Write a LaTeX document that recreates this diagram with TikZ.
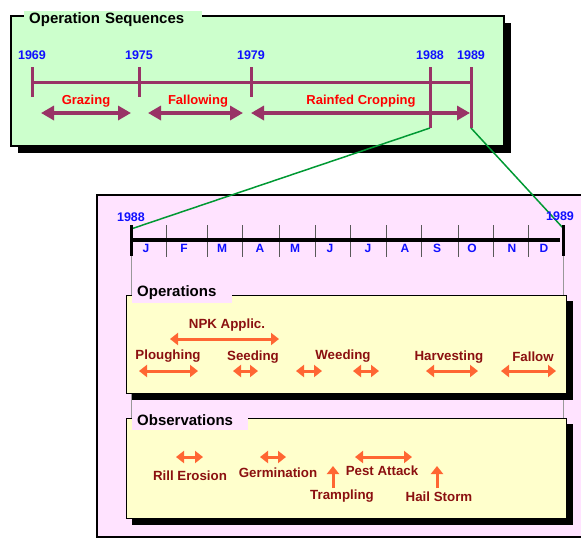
\documentclass[tikz,border=0pt]{standalone}
\usepackage{fontspec}
\setmainfont{Liberation Sans}
\usetikzlibrary{arrows.meta}
\definecolor{seqgreen}{HTML}{CCFFCC}
\definecolor{yrpink}{HTML}{FFE3FF}
\definecolor{opyellow}{HTML}{FFFFCC}
\definecolor{plum}{HTML}{993366}
\definecolor{yearblue}{HTML}{1010FF}
\definecolor{darkred}{HTML}{8B1010}
\definecolor{tangerine}{HTML}{FF6633}
\definecolor{zoomgreen}{HTML}{009933}

\tikzset{
  title/.style={anchor=west,align=left,inner xsep=5pt,inner ysep=0pt,minimum height=19pt,font=\bfseries\fontsize{15}{17}\selectfont},
  year/.style={text=yearblue,font=\bfseries\fontsize{12.5}{14}\selectfont},
  month/.style={text=yearblue,font=\bfseries\fontsize{12}{14}\selectfont},
  phase/.style={text=red,font=\bfseries\fontsize{13}{15}\selectfont},
  event/.style={text=darkred,font=\bfseries\fontsize{13.3}{15}\selectfont},
  tick/.style={draw=plum,line width=3pt},
  span/.style={draw=plum,line width=4pt,{Triangle[length=13pt,width=14pt]}-{Triangle[length=13pt,width=14pt]}},
  twoway/.style={draw=tangerine,line width=3pt,{Triangle[length=8pt,width=12pt]}-{Triangle[length=8pt,width=12pt]}},
  oneway/.style={draw=tangerine,line width=3pt,-{Triangle[length=8pt,width=12pt]}},
  shadow/.style={fill=black},
  zoomline/.style={draw=zoomgreen,line width=1.5pt},
}

\begin{document}
\begin{tikzpicture}[x=1pt,y=-1pt]
  \useasboundingbox (0,0) rectangle (581,539);%
  \clip (0,0) rectangle (581,539);%
  % top panel
  \fill[shadow] (18,23) rectangle (511,153);%
  \draw[fill=seqgreen,line width=1.5pt] (11,16) rectangle (504,146);%
  \node[title,fill=seqgreen,text width=168pt] (seqtitle) at (24,20) {Operation Sequences};%
  \foreach \yr/\xx/\len in {1969/32/97,1975/139/97,1979/251/97,1988/430/128,1989/471/128} {%
    \node[year] (y\yr) at (\xx,55) {\yr};%
    \coordinate (a\yr) at (\xx,67);%
    \coordinate (b\yr) at (\xx,\len);%
    \draw[tick] (a\yr) -- (b\yr);%
  }%
  \coordinate (line0) at (32,82);%
  \coordinate (line1) at (471,82);%
  \draw[tick] (line0) -- (line1);%
  \coordinate (gz0) at (41,113);  \coordinate (gz1) at (131,113);%
  \coordinate (fw0) at (148,113); \coordinate (fw1) at (243,113);%
  \coordinate (rc0) at (251,113); \coordinate (rc1) at (470,113);%
  \draw[span] (gz0) -- (gz1);%
  \draw[span] (fw0) -- (fw1);%
  \draw[span] (rc0) -- (rc1);%
  \node[phase] (grazing) at (86,101) {Grazing};%
  \node[phase] (fallowing) at (198,101) {Fallowing};%
  \node[phase] (rainfed) at (361,101) {Rainfed Cropping};%
  % bottom panel
  \draw[fill=yrpink,line width=1.5pt] (97,195) rectangle (600,537);%
  \coordinate (m0) at (131,225); \coordinate (m0b) at (131,256);%
  \coordinate (m1) at (563,225); \coordinate (m1b) at (563,256);%
  \coordinate (m0c) at (131,420); \coordinate (m1c) at (563,420);%
  \draw[zoomline] (b1988) -- (131,229);%
  \draw[zoomline] (b1989) -- (563,228);%
  \draw[gray!80,line width=1pt] (m0b) -- (m0c);%
  \draw[gray!80,line width=1pt] (m1b) -- (m1c);%
  \foreach \xx in {166,207,242,279,315,350,386,421,458,493,528}
    \draw[black!65,line width=1pt] (\xx,225) -- (\xx,257);%
  \coordinate (axis0) at (131,240); \coordinate (axis1) at (560,240);%
  \draw[line width=3.5pt] (axis0) -- (axis1);%
  \draw[line width=3pt] (m0) -- (m0b);%
  \draw[line width=3pt] (m1) -- (m1b);%
  \node[year] (low1988) at (131,217) {1988};%
  \node[year] (low1989) at (560,216) {1989};%
  \foreach \mo/\xx [count=\i] in {J/146,F/184,M/222,A/260,M/295,J/330,J/368,A/405,S/437,O/472,N/512,D/544}
    \node[month] (mo\i) at (\xx,248) {\mo};%
  % operations
  \fill[shadow] (132,301) rectangle (573,400);%
  \draw[fill=opyellow,line width=1pt] (126,295) rectangle (566,393);%
  \node[title,fill=yrpink,text width=90pt] (optitle) at (132,293) {Operations};%
  \node[event] (npk) at (227,325) {NPK Applic.};%
  \node[event] (plough) at (168,356) {Ploughing};%
  \node[event] (seed) at (253,357) {Seeding};%
  \node[event] (weed) at (343,356) {Weeding};%
  \node[event] (harvest) at (449,357) {Harvesting};%
  \node[event] (fallow) at (533,357) {Fallow};%
  \draw[twoway] (170,339) coordinate (npk0) -- (279,339) coordinate (npk1);%
  \draw[twoway] (139,371) coordinate (pl0) -- (198,371) coordinate (pl1);%
  \draw[twoway] (233,371) coordinate (sd0) -- (258,371) coordinate (sd1);%
  \draw[twoway] (296,371) coordinate (wa0) -- (322,371) coordinate (wa1);%
  \draw[twoway] (353,371) coordinate (wb0) -- (379,371) coordinate (wb1);%
  \draw[twoway] (426,371) coordinate (hv0) -- (478,371) coordinate (hv1);%
  \draw[twoway] (501,371) coordinate (fl0) -- (556,371) coordinate (fl1);%
  % observations
  \fill[shadow] (132,424) rectangle (573,525);%
  \draw[fill=opyellow,line width=1pt] (126,418) rectangle (566,518);%
  \node[title,fill=yrpink,text width=106pt] (obtitle) at (132,420) {Observations};%
  \node[event] (rill) at (190,476) {Rill Erosion};%
  \node[event] (germ) at (278,473) {Germination};%
  \node[event] (tramp) at (342,496) {Trampling};%
  \node[event] (pest) at (382,471) {Pest Attack};%
  \node[event] (hail) at (439,497) {Hail Storm};%
  \draw[twoway] (176,457) coordinate (re0) -- (203,457) coordinate (re1);%
  \draw[twoway] (260,457) coordinate (gm0) -- (286,457) coordinate (gm1);%
  \draw[twoway] (355,457) coordinate (pa0) -- (412,457) coordinate (pa1);%
  \draw[oneway] (333,488) coordinate (tr0) -- (333,466) coordinate (tr1);%
  \draw[oneway] (437,488) coordinate (hs0) -- (437,466) coordinate (hs1);%
\end{tikzpicture}
\end{document}
